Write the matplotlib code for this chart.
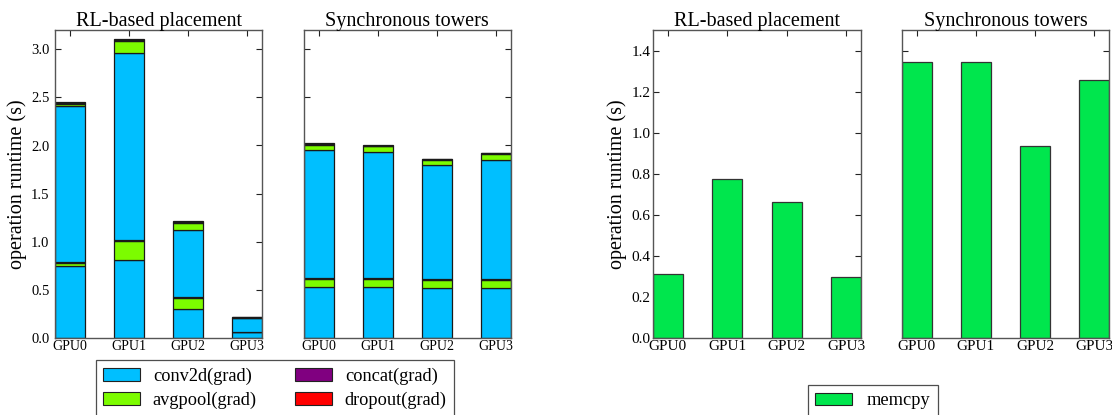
import matplotlib
matplotlib.use("Agg")
import matplotlib.pyplot as plt
from matplotlib.patches import Patch
import numpy as np

plt.rcParams['font.family'] = ['Liberation Serif', 'DejaVu Serif']

gpus = ['GPU0', 'GPU1', 'GPU2', 'GPU3']
panel_titles = ['RL-based placement', 'Synchronous towers']
op_names = ['conv2d(grad)', 'avgpool(grad)', 'concat(grad)', 'dropout(grad)']
op_colors = {'conv2d(grad)': '#00BFFF', 'avgpool(grad)': '#7CFC00',
             'concat(grad)': '#800080', 'dropout(grad)': '#FF0000'}

# stacking order of segments within each bar (bottom to top)
segment_ops = ['conv2d(grad)', 'avgpool(grad)', 'concat(grad)',
               'conv2d(grad)', 'avgpool(grad)', 'concat(grad)', 'dropout(grad)']

# RL-based placement
rl_conv2d_lower = [0.75, 0.81, 0.305, 0.06]
rl_avgpool_lower = [0.03, 0.20, 0.115, 0.0]
rl_concat_lower = [0.01, 0.01, 0.01, 0.005]
rl_conv2d_upper = [1.62, 1.94, 0.695, 0.145]
rl_avgpool_upper = [0.025, 0.13, 0.07, 0.0]
rl_concat_upper = [0.008, 0.01, 0.01, 0.003]
rl_dropout = [0.007, 0.008, 0.007, 0.002]

# Synchronous towers
st_conv2d_lower = [0.535, 0.53, 0.52, 0.515]
st_avgpool_lower = [0.075, 0.08, 0.085, 0.09]
st_concat_lower = [0.01, 0.01, 0.01, 0.01]
st_conv2d_upper = [1.33, 1.31, 1.18, 1.235]
st_avgpool_upper = [0.06, 0.06, 0.058, 0.062]
st_concat_upper = [0.008, 0.007, 0.006, 0.006]
st_dropout = [0.006, 0.005, 0.005, 0.004]

rl_segments = [rl_conv2d_lower, rl_avgpool_lower, rl_concat_lower,
               rl_conv2d_upper, rl_avgpool_upper, rl_concat_upper, rl_dropout]
st_segments = [st_conv2d_lower, st_avgpool_lower, st_concat_lower,
               st_conv2d_upper, st_avgpool_upper, st_concat_upper, st_dropout]

# memcpy
rl_memcpy = [0.313, 0.774, 0.664, 0.297]
st_memcpy = [1.344, 1.342, 0.935, 1.256]
memcpy_color = '#00E64D'

W, H = 1112, 415
fig = plt.figure(figsize=(W / 100, H / 100), dpi=100)

def px_axes(x0, x1, ytop, ybot):
    return fig.add_axes([x0 / W, 1 - ybot / H, (x1 - x0) / W, (ybot - ytop) / H])

ax1 = px_axes(55, 262, 30, 338)
ax2 = px_axes(304, 510.7, 30, 338)
ax3 = px_axes(653, 861, 30, 338)
ax4 = px_axes(902, 1109, 30, 338)

x = np.arange(len(gpus))
bw = 0.5
edge = '#1a1a1a'

def style(ax, ylim, yticks, show_ylabels, xfs, yfs, ypad):
    ax.set_xlim(-0.25, 3.25)
    ax.set_ylim(*ylim)
    ax.set_xticks(x)
    ax.set_xticklabels(gpus, fontsize=xfs)
    ax.set_yticks(yticks)
    if show_ylabels:
        ax.set_yticklabels(['%.1f' % v for v in yticks], fontsize=yfs)
        ax.set_ylabel('operation runtime (s)', fontsize=14.5, labelpad=3)
    else:
        ax.set_yticklabels([])
    ax.tick_params(direction='in', top=True, right=True, length=4, width=0.8,
                   color='#222222', pad=1.5)
    ax.tick_params(axis='y', pad=ypad)
    for s in ax.spines.values():
        s.set_color('#555555')
        s.set_linewidth(1.0)

for ax, segs, title in [(ax1, rl_segments, panel_titles[0]), (ax2, st_segments, panel_titles[1])]:
    bottom = np.zeros(len(gpus))
    for op, vals in zip(segment_ops, segs):
        vals = np.array(vals)
        ax.bar(x, vals, bw, bottom=bottom, color=op_colors[op], edgecolor=edge,
               linewidth=0.9, zorder=2)
        bottom += vals
    ax.set_title(title, fontsize=14.5, pad=3)
    style(ax, (0, 3.2), np.arange(0, 3.01, 0.5), ax is ax1, 10, 10.5, 4)

for ax, vals, title in [(ax3, rl_memcpy, panel_titles[0]), (ax4, st_memcpy, panel_titles[1])]:
    ax.bar(x, vals, bw, color=memcpy_color, edgecolor='#333333', linewidth=0.9, zorder=2)
    ax.set_title(title, fontsize=14.5, pad=3)
    style(ax, (0, 1.5), np.arange(0, 1.41, 0.2), ax is ax3, 11, 11, 2)

handles = [Patch(facecolor=op_colors[o], edgecolor='#222222', linewidth=0.8) for o in op_names]
leg1 = fig.legend(handles, op_names, loc='upper left', bbox_to_anchor=(96 / W, 1 - 360 / H),
                  ncol=2, fontsize=13.2, frameon=True, fancybox=False, edgecolor='#222222',
                  handlelength=2.0, handletextpad=0.7, columnspacing=2.1, labelspacing=0.4,
                  borderpad=0.4, borderaxespad=0)
leg1.get_frame().set_linewidth(0.9)

leg2 = fig.legend([Patch(facecolor=memcpy_color, edgecolor='#222222', linewidth=0.8)], ['memcpy'],
                  loc='upper left', bbox_to_anchor=(808 / W, 1 - 385 / H),
                  fontsize=13.2, frameon=True, fancybox=False, edgecolor='#222222',
                  handlelength=2.0, handletextpad=0.8, borderpad=0.4, borderaxespad=0)
leg2.get_frame().set_linewidth(0.9)

fig.savefig('out.png', dpi=100)
